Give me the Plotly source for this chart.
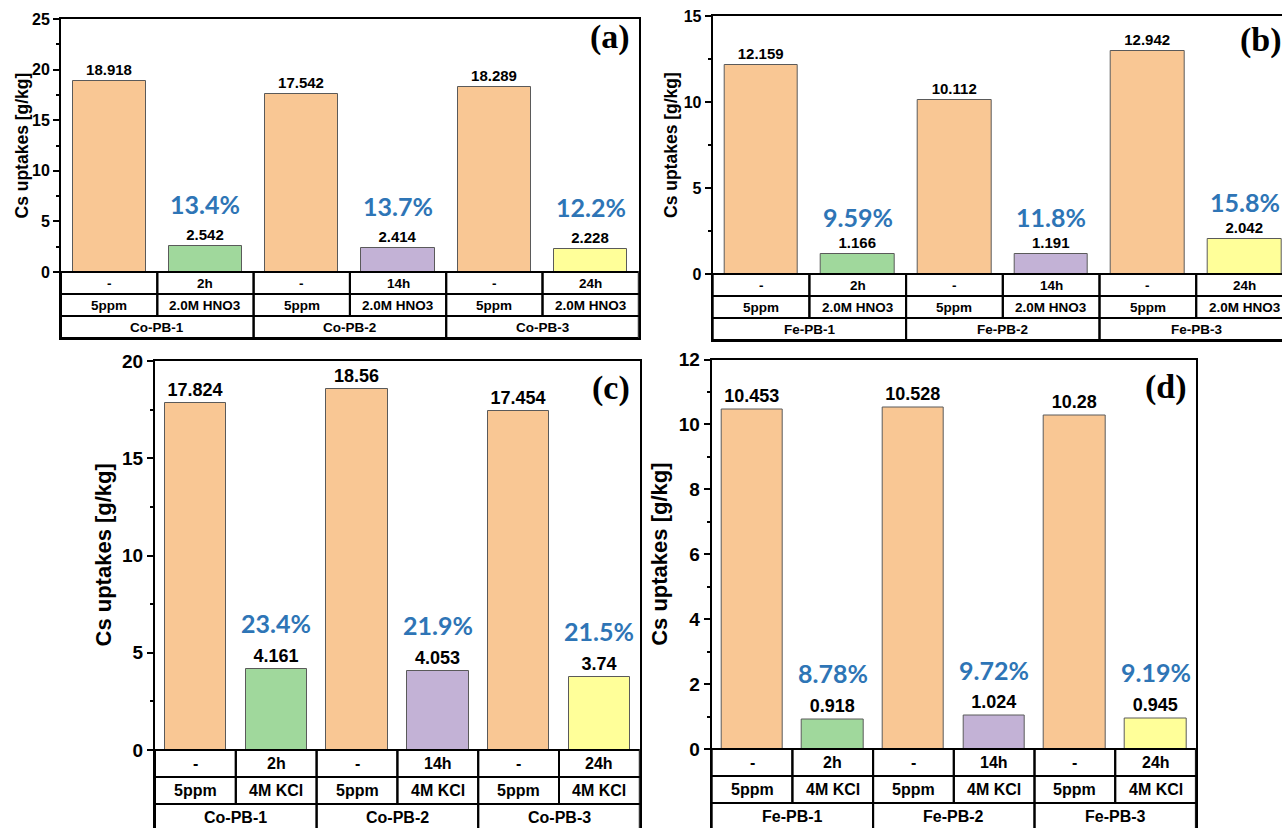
import plotly.graph_objects as go

# ---- data -------------------------------------------------------------
time_row = ["-", "2h", "-", "14h", "-", "24h"]
conc_hno3 = ["5ppm", "2.0M HNO3", "5ppm", "2.0M HNO3", "5ppm", "2.0M HNO3"]
conc_kcl = ["5ppm", "4M KCl", "5ppm", "4M KCl", "5ppm", "4M KCl"]
samples_co = ["Co-PB-1", "Co-PB-2", "Co-PB-3"]
samples_fe = ["Fe-PB-1", "Fe-PB-2", "Fe-PB-3"]

uptake_a = [18.918, 2.542, 17.542, 2.414, 18.289, 2.228]
uptake_b = [12.159, 1.166, 10.112, 1.191, 12.942, 2.042]
uptake_c = [17.824, 4.161, 18.56, 4.053, 17.454, 3.74]
uptake_d = [10.453, 0.918, 10.528, 1.024, 10.28, 0.945]

ratio_a = ["13.4%", "13.7%", "12.2%"]
ratio_b = ["9.59%", "11.8%", "15.8%"]
ratio_c = ["23.4%", "21.9%", "21.5%"]
ratio_d = ["8.78%", "9.72%", "9.19%"]

yticks_a = [0, 5, 10, 15, 20, 25]
yticks_b = [0, 5, 10, 15]
yticks_c = [0, 5, 10, 15, 20]
yticks_d = [0, 2, 4, 6, 8, 10, 12]

# ---- style ------------------------------------------------------------
W, H = 1282, 828
SANS = "Liberation Sans, Arial, sans-serif"
SERIF = "Liberation Serif, Times New Roman, serif"
PCT_FONT = "Lato, Carlito, Calibri, sans-serif"
PCT_COLOR = "#2E75B6"
ORANGE, GREEN, PURPLE, YELLOW = "#F9C794", "#A0D89C", "#C3B2D6", "#FFFF99"
bar_colors = [ORANGE, GREEN, ORANGE, PURPLE, ORANGE, YELLOW]

panels = [
    dict(key="", tag="(a)", vals=uptake_a, ratios=ratio_a, conc=conc_hno3, samples=samples_co,
         yticks=yticks_a, minor=2.5, left=61, col=96.3, top=19, zero=272, bottom=338, row=22,
         mirror_y=True, top_only=False, tick_fs=16, val_fs=15, tab_fs=13.5, title_fs=17.5,
         title_x=21, pct_shift=42, tag_x=631.7, tag_anchor="right", tag_y=37),
    dict(key="2", tag="(b)", vals=uptake_b, ratios=ratio_b, conc=conc_hno3, samples=samples_fe,
         yticks=yticks_b, minor=2.5, left=712.7, col=96.7, top=16, zero=274, bottom=340, row=22,
         mirror_y=False, top_only=False, tick_fs=16, val_fs=15, tab_fs=13.5, title_fs=17.5,
         title_x=671, pct_shift=37, tag_x=1237.6, tag_anchor="left", tag_y=40.5),
    dict(key="3", tag="(c)", vals=uptake_c, ratios=ratio_c, conc=conc_kcl, samples=samples_co,
         yticks=yticks_c, minor=2.5, left=155, col=80.8, top=361, zero=750, bottom=828, row=27,
         mirror_y=True, top_only=True, tick_fs=19, val_fs=18, tab_fs=16, title_fs=22,
         title_x=103, pct_shift=46, tag_x=631.7, tag_anchor="right", tag_y=387.5),
    dict(key="4", tag="(d)", vals=uptake_d, ratios=ratio_d, conc=conc_kcl, samples=samples_fe,
         yticks=yticks_d, minor=1, left=711.7, col=80.7, top=359.5, zero=749, bottom=828, row=27,
         mirror_y=True, top_only=True, tick_fs=19, val_fs=18, tab_fs=16, title_fs=22,
         title_x=659.6, pct_shift=46, tag_x=1188.5, tag_anchor="right", tag_y=386.7),
]

fig = go.Figure()
shapes, annotations = [], []
layout_axes = {}

for p in panels:
    k = p["key"]
    xa, ya = "x" + k, "y" + k
    vals = p["vals"]
    n = len(vals)
    xs = list(range(n))

    ymax = p["yticks"][-1]
    ppu = (p["zero"] - p["top"]) / ymax          # pixels per data unit
    ymin = -(p["bottom"] - p["zero"]) / ppu
    row_h = p["row"] / ppu
    right_px = min(p["left"] + n * p["col"], W)
    xmax = -0.5 + (right_px - p["left"]) / p["col"]

    fig.add_trace(go.Bar(
        x=xs, y=vals, width=0.76, xaxis=xa, yaxis=ya,
        marker=dict(color=bar_colors, line=dict(color="#5a5a5a", width=1)),
        text=[str(v) for v in vals], textposition="outside",
        textfont=dict(family=SANS, size=p["val_fs"], color="black", weight="bold"),
        constraintext="none", cliponaxis=False, showlegend=False, hoverinfo="skip",
    ))

    minor_vals = [t + p["minor"] for t in p["yticks"][:-1]]
    layout_axes["xaxis" + k] = dict(
        domain=[p["left"] / W, right_px / W], anchor=ya, range=[-0.5, xmax],
        automargin=False,
        showticklabels=False, ticks="", showgrid=False, zeroline=False,
        showline=True, linecolor="black", linewidth=2,
        mirror=False if p["top_only"] else True,
        side="top" if p["top_only"] else "bottom",
    )
    layout_axes["yaxis" + k] = dict(
        domain=[1 - p["bottom"] / H, 1 - p["top"] / H], anchor=xa, range=[ymin, ymax],
        automargin=False,
        tickmode="array", tickvals=p["yticks"], ticks="outside", ticklen=6, tickwidth=2,
        tickcolor="black", showgrid=False, zeroline=False,
        tickfont=dict(family=SANS, size=p["tick_fs"], color="black", weight="bold"),
        minor=dict(tickmode="array", tickvals=minor_vals, ticks="outside", ticklen=3,
                   tickwidth=2, tickcolor="black", showgrid=False),
        showline=True, linecolor="black", linewidth=2, mirror=p["mirror_y"],
    )

    # table under the bars: time row, concentration row, sample row
    rows = [time_row, p["conc"]]
    for r, labels in enumerate(rows):
        for i, lab in enumerate(labels):
            shapes.append(dict(type="rect", xref=xa, yref=ya, x0=i - 0.5, x1=i + 0.5,
                               y0=-r * row_h, y1=-(r + 1) * row_h,
                               line=dict(color="black", width=2), layer="above"))
            annotations.append(dict(xref=xa, yref=ya, x=i, y=-(r + 0.5) * row_h, text=lab,
                                    showarrow=False,
                                    font=dict(family=SANS, size=p["tab_fs"], color="black",
                                              weight="bold")))
    for g, lab in enumerate(p["samples"]):
        shapes.append(dict(type="rect", xref=xa, yref=ya, x0=2 * g - 0.5, x1=2 * g + 1.5,
                           y0=-2 * row_h, y1=-3 * row_h,
                           line=dict(color="black", width=2), layer="above"))
        annotations.append(dict(xref=xa, yref=ya, x=2 * g + 0.5, y=-2.5 * row_h, text=lab,
                                showarrow=False,
                                font=dict(family=SANS, size=p["tab_fs"], color="black",
                                          weight="bold")))

    # percentage retained above each treated sample
    for g, txt in enumerate(p["ratios"]):
        i = 2 * g + 1
        annotations.append(dict(xref=xa, yref=ya, x=i, y=vals[i], text=txt, showarrow=False,
                                yanchor="middle", yshift=p["pct_shift"],
                                font=dict(family=PCT_FONT, size=25, color=PCT_COLOR,
                                          weight="bold")))

    # y-axis title centred on the positive value range
    annotations.append(dict(xref="paper", yref=ya, x=p["title_x"] / W, y=ymax / 2,
                            text="Cs uptakes [g/kg]", textangle=-90, showarrow=False,
                            xanchor="center", yanchor="middle",
                            font=dict(family=SANS, size=p["title_fs"], color="black",
                                      weight="bold")))

    # panel tag
    annotations.append(dict(xref="paper", yref="paper", x=p["tag_x"] / W,
                            y=1 - p["tag_y"] / H, text=p["tag"], showarrow=False,
                            xanchor=p["tag_anchor"], yanchor="middle",
                            font=dict(family=SERIF, size=34, color="black", weight="bold")))

fig.update_layout(
    width=W, height=H, autosize=False,
    margin=dict(l=0, r=0, t=0, b=0, autoexpand=False),
    paper_bgcolor="white", plot_bgcolor="white",
    shapes=shapes, annotations=annotations,
    bargap=0, **layout_axes,
)

fig.write_html("out.html", config={"displayModeBar": False})
